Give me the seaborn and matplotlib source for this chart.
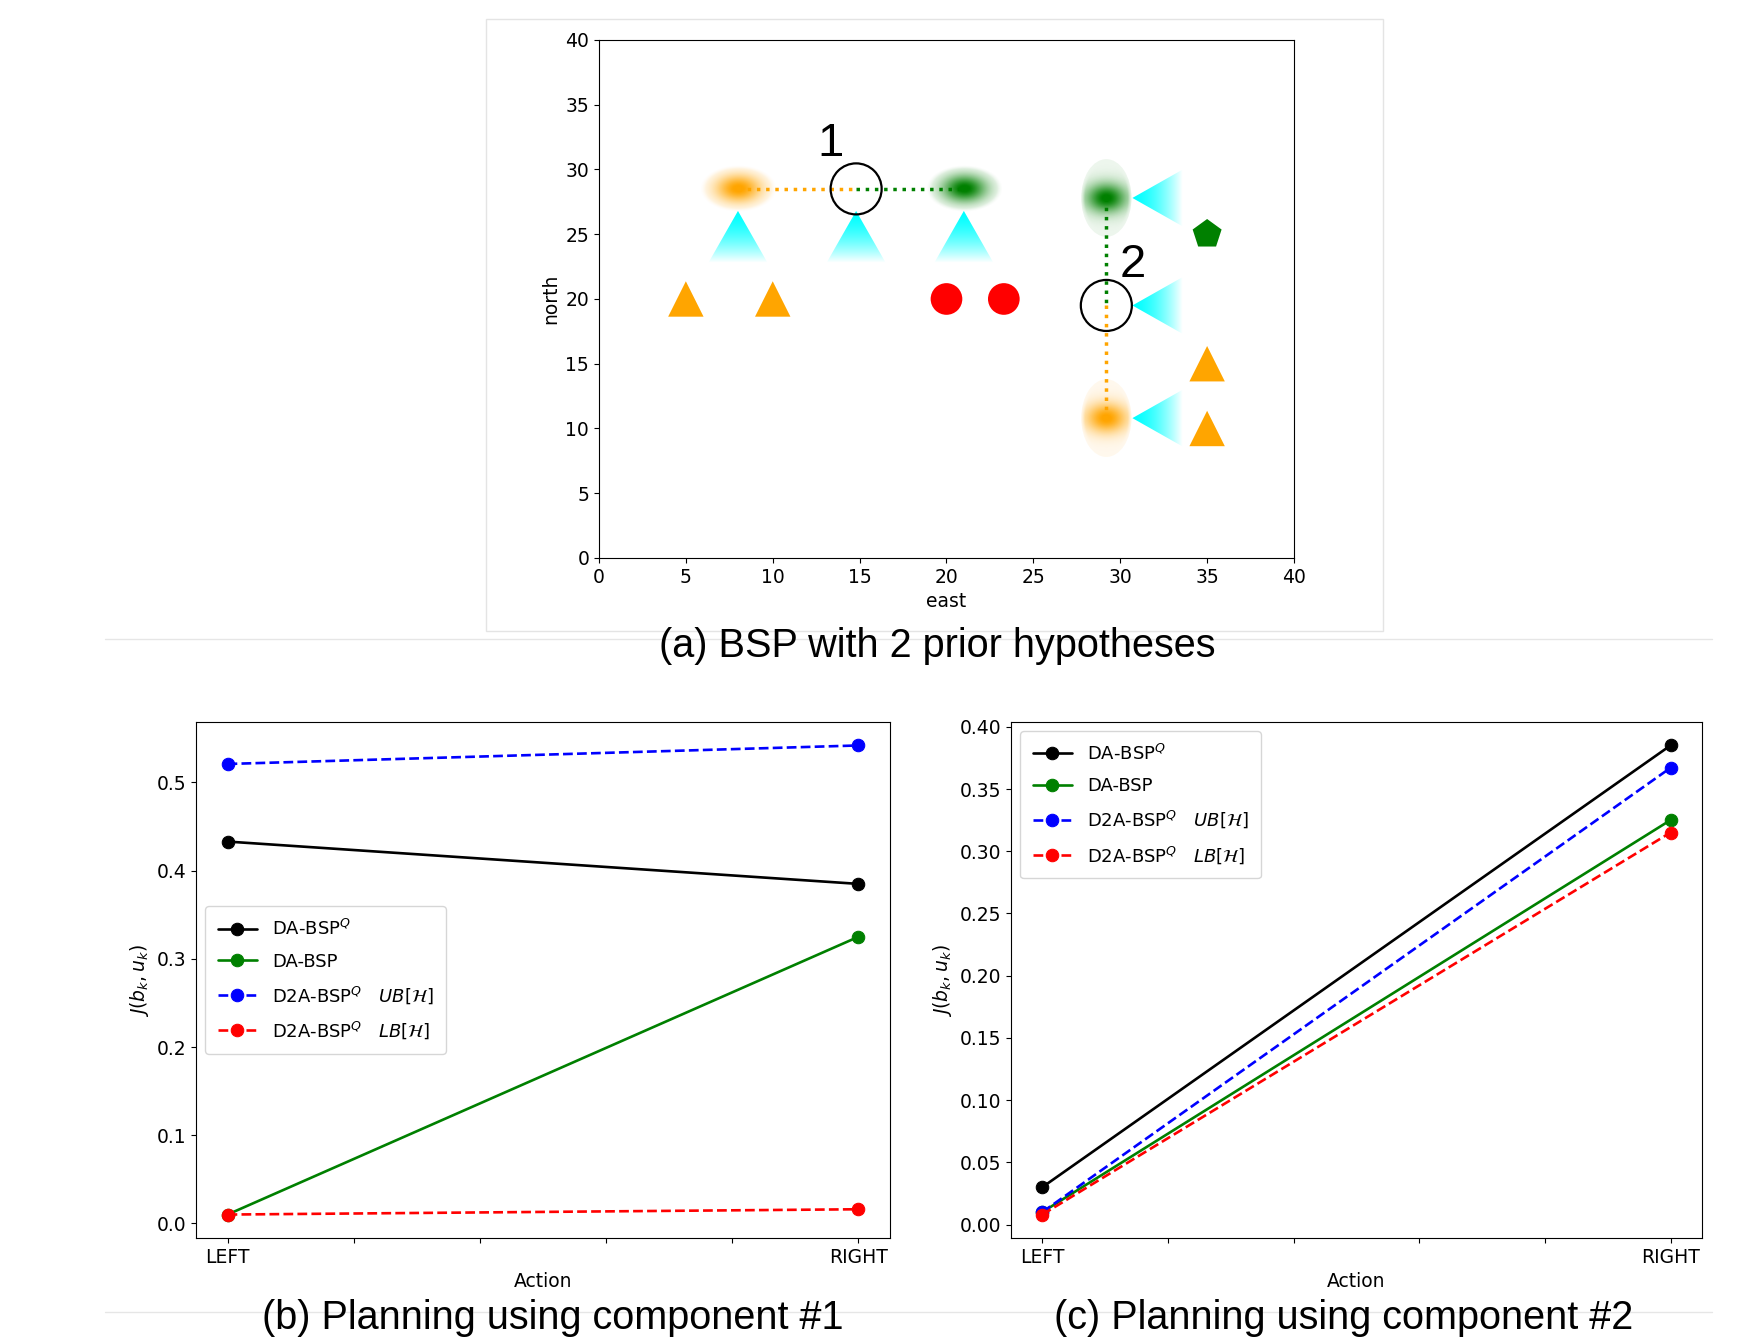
"""
BSP figure: landmark map with two prior hypotheses (top)
and planning objective per action for each component (bottom).
"""

import matplotlib

matplotlib.use("Agg")
import matplotlib.pyplot as plt
import numpy as np
import pandas as pd
import seaborn as sns
from matplotlib.patches import Ellipse, Polygon

sns.set_style("ticks")
plt.rcParams["font.family"] = ["DejaVu Sans"]
plt.rcParams.update({"text.color": "black", "axes.labelcolor": "black",
                     "xtick.color": "black", "ytick.color": "black",
                     "axes.edgecolor": "black"})

# ---- top map data ----
orange_tri_x = [5, 10, 35, 35]
orange_tri_y = [20, 20, 15, 10]
red_dot_x = [20, 23.3]
red_dot_y = [20, 20]
pentagon_x = [35]
pentagon_y = [25]

# robot poses (open circles) and their labels
pose_x = [14.8, 29.2]
pose_y = [28.5, 19.5]
pose_labels = ["1", "2"]

# hypothesis blobs: (x, y, half width, half height, colour)
blob_x = [8.0, 21.0, 29.2, 29.2]
blob_y = [28.5, 28.5, 27.8, 10.8]
blob_w = [2.2, 2.2, 1.45, 1.45]
blob_h = [1.8, 1.8, 3.0, 3.0]
blob_col = ["orange", "green", "green", "orange"]

# camera cones: up-facing below pose 1 row, left-facing at x~30
cone_up_x = [8.0, 14.8, 21.0]
cone_up_apex = 26.8
cone_up_base = 22.8
cone_left_y = [27.8, 19.5, 10.8]
cone_left_apex = 30.7
cone_left_base = 33.6

# ---- bottom line plots ----
actions = ["LEFT", "RIGHT"]
series = [r"DA-BSP$^Q$", "DA-BSP",
          r"D2A-BSP$^Q$   $UB[\mathcal{H}]$", r"D2A-BSP$^Q$   $LB[\mathcal{H}]$"]
series_col = ["black", "green", "blue", "red"]
series_ls = ["-", "-", "--", "--"]
comp1 = [[0.433, 0.385], [0.010, 0.325], [0.521, 0.542], [0.010, 0.016]]
comp2 = [[0.030, 0.385], [0.010, 0.325], [0.010, 0.367], [0.008, 0.315]]

fig = plt.figure(figsize=(17.56, 13.41), dpi=100)


def gauss_blob(ax, x, y, w, h, col, outer=False):
    """Soft gaussian ellipse drawn as an RGBA image"""
    rgb = matplotlib.colors.to_rgb(col)
    n = 160
    gx, gy = np.meshgrid(np.linspace(-1, 1, n), np.linspace(-1, 1, n))
    if outer:
        r2 = (gx * 0.75) ** 2 + (gy * 1.6) ** 2
    else:
        r2 = gx ** 2 + gy ** 2
    a = np.exp(-r2 / (2 * 0.42 ** 2))
    # soft rim so the edge is not a hard cut
    rim = np.clip((1.0 - np.sqrt(gx ** 2 + gy ** 2)) / 0.15, 0, 1)
    a = a * rim
    img = np.zeros((n, n, 4))
    img[..., :3] = rgb
    img[..., 3] = np.clip(a * 1.05, 0, 1)
    ax.imshow(img, extent=(x - w, x + w, y - h, y + h), origin="lower",
              interpolation="bilinear", aspect="auto", zorder=2)
    if outer:
        ax.add_patch(Ellipse((x, y), 2 * w, 2 * h, facecolor=col, alpha=0.07,
                             edgecolor="none", zorder=1.5))


def cone(ax, verts, horizontal):
    """Cyan triangle fading out towards its base"""
    n = 100
    img = np.zeros((n, n, 4))
    img[..., :3] = matplotlib.colors.to_rgb("cyan")
    t = np.linspace(0.0, 1.0, n)
    ramp = np.clip(1.0 - t ** 1.6, 0, 1)
    if horizontal:
        img[..., 3] = ramp[None, :]
    else:
        img[..., 3] = ramp[::-1][:, None]
    xs = [v[0] for v in verts]
    ys = [v[1] for v in verts]
    im = ax.imshow(img, extent=(min(xs), max(xs), min(ys), max(ys)),
                   origin="lower", interpolation="bilinear", aspect="auto", zorder=2)
    poly = Polygon(verts, closed=True, facecolor="none", edgecolor="none")
    ax.add_patch(poly)
    im.set_clip_path(poly)


# ---- (a) map ----
ax0 = fig.add_axes([0.3411, 0.5839, 0.3958, 0.3863])
for x, y, w, h, c in zip(blob_x, blob_y, blob_w, blob_h, blob_col):
    gauss_blob(ax0, x, y, w, h, c, outer=(h > w))
for x in cone_up_x:
    cone(ax0, [(x, cone_up_apex), (x - 1.7, cone_up_base), (x + 1.7, cone_up_base)], False)
for y in cone_left_y:
    cone(ax0, [(cone_left_apex, y), (cone_left_base, y + 2.2), (cone_left_base, y - 2.2)], True)

# dotted links from poses to hypotheses
ax0.plot([blob_x[0], pose_x[0]], [blob_y[0], pose_y[0]], ":", color="orange", lw=2.5, zorder=3)
ax0.plot([pose_x[0], blob_x[1]], [pose_y[0], blob_y[1]], ":", color="green", lw=2.5, zorder=3)
ax0.plot([blob_x[2], pose_x[1]], [blob_y[2], pose_y[1]], ":", color="green", lw=2.5, zorder=3)
ax0.plot([pose_x[1], blob_x[3]], [pose_y[1], blob_y[3]], ":", color="orange", lw=2.5, zorder=3)

sns.scatterplot(x=orange_tri_x, y=orange_tri_y, marker="^", s=650, color="orange",
                edgecolor="none", ax=ax0, zorder=4)
sns.scatterplot(x=red_dot_x, y=red_dot_y, marker="o", s=520, color="red",
                edgecolor="none", ax=ax0, zorder=4)
sns.scatterplot(x=pentagon_x, y=pentagon_y, marker="p", s=480, color="green",
                edgecolor="none", ax=ax0, zorder=4)
ax0.scatter(pose_x, pose_y, s=1350, facecolors="none", edgecolors="black",
            linewidths=1.6, zorder=5)
ax0.text(13.3, 32.0, pose_labels[0], fontsize=34, family="Liberation Sans",
         ha="center", va="center")
ax0.text(30.7, 22.6, pose_labels[1], fontsize=34, family="Liberation Sans",
         ha="center", va="center")

ax0.set_xlim(0, 40)
ax0.set_ylim(0, 40)
ax0.set_xticks(range(0, 41, 5))
ax0.set_yticks(range(0, 41, 5))
ax0.tick_params(labelsize=13.5)
ax0.set_xlabel("east", fontsize=13.5)
ax0.set_ylabel("north", fontsize=13.5)

# ---- (b), (c) planning curves ----
ax1 = fig.add_axes([0.1116, 0.0768, 0.3952, 0.3848])
ax2 = fig.add_axes([0.5757, 0.0768, 0.3935, 0.3848])

for ax, vals, loc in [(ax1, comp1, "center left"), (ax2, comp2, "upper left")]:
    for name, v, c, ls in zip(series, vals, series_col, series_ls):
        df = pd.DataFrame({"action": [0, 1], "J": v})
        sns.lineplot(data=df, x="action", y="J", color=c, linestyle=ls, marker="o",
                     markersize=9, markeredgecolor=c, lw=1.9, label=name, ax=ax)
    ax.set_xticks(np.linspace(0, 1, 6))
    ax.set_xticklabels([actions[0], "", "", "", "", actions[1]])
    ax.set_xlabel("Action", fontsize=13.5)
    ax.set_ylabel(r"$J(b_k, u_k)$", fontsize=13.5)
    ax.tick_params(labelsize=13.5)
    ax.legend(loc=loc, fontsize=13, handlelength=2.2, borderpad=0.7, labelspacing=0.75)

ax1.set_yticks(np.arange(0, 0.51, 0.1))
ax2.set_yticks(np.arange(0, 0.401, 0.05))
ax2.set_yticklabels([f"{t:.2f}" for t in np.arange(0, 0.401, 0.05)])

# frame around the map and separator lines
fig.add_artist(plt.Rectangle((0.2768, 0.5295), 0.5108, 0.4564, transform=fig.transFigure,
                             fill=False, edgecolor="#e4e4e4", lw=1))
fig.add_artist(plt.Line2D([0.06, 0.975], [0.5235, 0.5235], color="#e6e6e6", lw=1))
fig.add_artist(plt.Line2D([0.06, 0.975], [0.0215, 0.0215], color="#e6e6e6", lw=1))

cap = dict(fontsize=28.5, family="Liberation Sans", ha="center", va="center",
           color="black")
fig.text(0.5336, 0.5185, "(a) BSP with 2 prior hypotheses", **cap)
fig.text(0.315, 0.0175, "(b) Planning using component #1", **cap)
fig.text(0.765, 0.0175, "(c) Planning using component #2", **cap)

fig.savefig("out.png", dpi=100)
